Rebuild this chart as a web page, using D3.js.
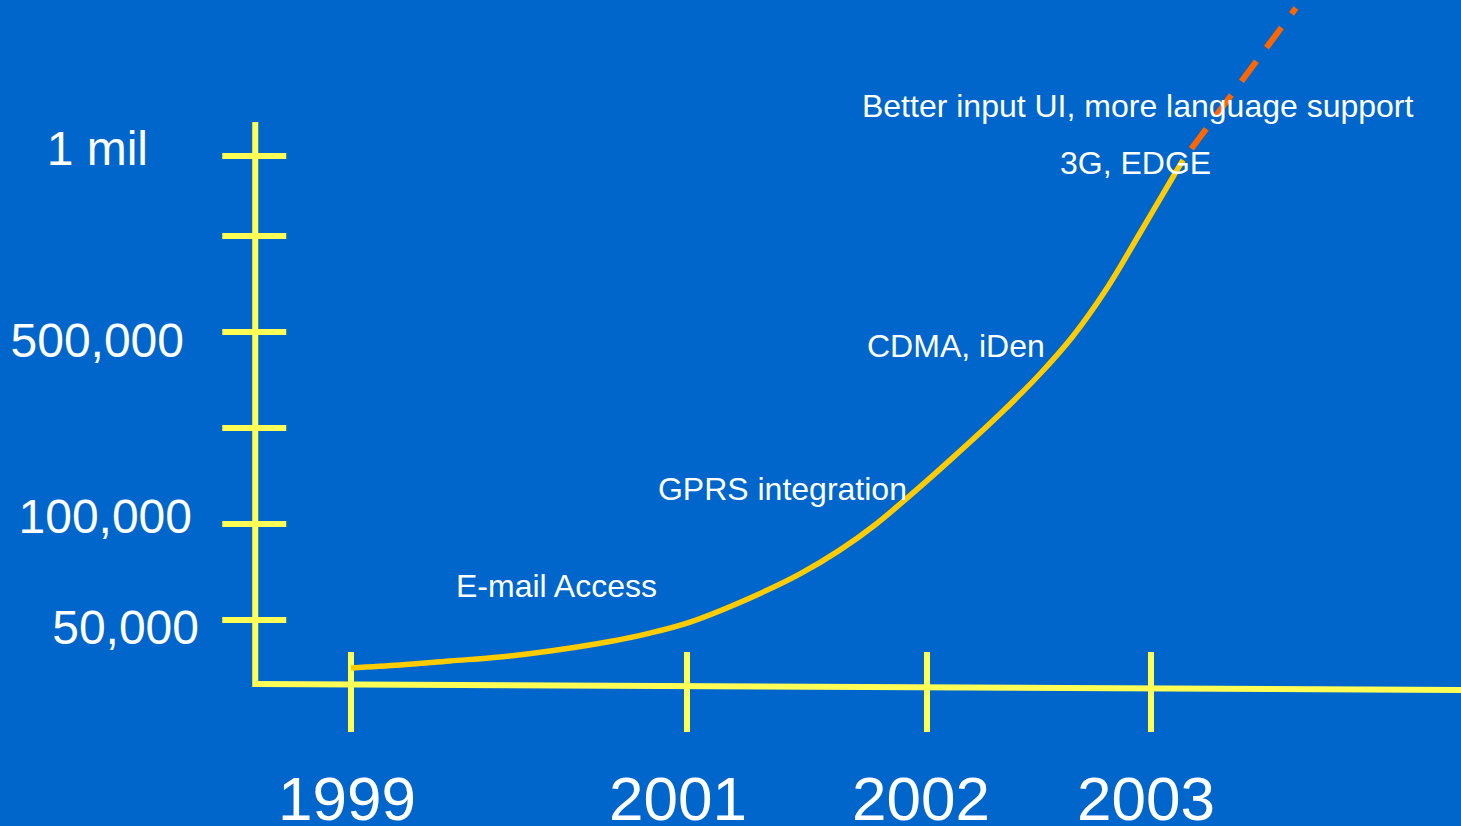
<!DOCTYPE html>
<html>
<head>
<meta charset="utf-8">
<script src="https://cdn.jsdelivr.net/npm/d3@7"></script>
<style>
  html, body { margin: 0; padding: 0; background: #0066CC; overflow: hidden; }
  svg { display: block; }
  text { font-family: "Liberation Sans", Arial, sans-serif; fill: #FFFFFF; }
</style>
</head>
<body>
<svg id="chart" width="1461" height="826"></svg>
<script>
// ---------- data ----------
const yearTicks = [1999, 2001, 2002, 2003];
const yearLabels = ["1999", "2001", "2002", "2003"];

const valueTicks = [50000, 100000, 300000, 500000, 750000, 1000000];
const valueTickLabels = ["50,000", "100,000", "", "500,000", "", "1 mil"];

// subscriber growth curve
const curveYears  = [1999.000, 1999.292, 1999.589, 1999.887, 2000.185, 2000.524, 2000.780, 2001.013, 2001.263, 2001.471, 2001.638, 2001.783, 2001.917, 2002.103, 2002.326, 2002.504, 2002.652, 2002.804, 2002.951, 2003.098, 2003.143];
const curveValues = [12500, 14800, 18000, 21100, 25800, 32800, 39800, 48400, 61500, 74000, 86500, 99500, 154000, 233000, 329000, 412500, 491700, 614600, 759400, 934400, 987500];

// projected extension (dashed)
const projYears  = [2003.143, 2003.647];
const projValues = [987500, 1462500];

// milestone annotations
const noteTexts  = ["E-mail Access", "GPRS integration", "CDMA, iDen", "3G, EDGE", "Better input UI, more language support"];
const noteYears  = [1999.625, 2000.827, 2001.750, 2002.594, 2001.729];
const noteValues = [62000, 150000, 447900, 943800, 1121900];

// ---------- layout / style ----------
const W = 1461, H = 826;
const colBg = "#0066CC", colAxis = "#FFFF55", colCurve = "#FFCC00", colProj = "#FF6600";

// piecewise (hand-drawn) scales
const x = d3.scaleLinear()
  .domain([1999, 2001, 2002, 2003])
  .range([351, 687, 927, 1151]);
const y = d3.scaleLinear()
  .domain([0, 50000, 100000, 300000, 500000, 750000, 1000000])
  .range([684, 620, 524, 428, 332, 236, 156]);

const xMin = 1998.43, xMax = 2004.39, yTop = 1106000;
const baselineDrift = 6;          // x axis slopes slightly down to the right
const yLabelEnd = [199, 192, 0, 184, 0, 148];   // right edge of each y label
const yLabelDy  = [24, 9, 0, 25, 0, 9];          // baseline offset from tick
const xLabelDx = [-4, -9, -6, -5];

const svg = d3.select("#chart");
svg.append("rect").attr("width", W).attr("height", H).attr("fill", colBg);

const gAxis = svg.append("g");

// y axis line
gAxis.append("line")
  .attr("x1", x(xMin)).attr("x2", x(xMin))
  .attr("y1", y(yTop)).attr("y2", y(0) + 3)
  .attr("stroke", colAxis).attr("stroke-width", 6);

// y ticks (crossing the axis)
gAxis.selectAll("line.ytick").data(valueTicks).join("line")
  .attr("class", "ytick")
  .attr("x1", x(xMin) - 33).attr("x2", x(xMin) + 31)
  .attr("y1", d => y(d)).attr("y2", d => y(d))
  .attr("stroke", colAxis).attr("stroke-width", 6);

// x axis line
gAxis.append("line")
  .attr("x1", x(xMin)).attr("x2", x(xMax))
  .attr("y1", y(0)).attr("y2", y(0) + baselineDrift)
  .attr("stroke", colAxis).attr("stroke-width", 6);

// x ticks
gAxis.selectAll("line.xtick").data(yearTicks).join("line")
  .attr("class", "xtick")
  .attr("x1", d => x(d)).attr("x2", d => x(d))
  .attr("y1", y(0) - 32).attr("y2", y(0) + 48)
  .attr("stroke", colAxis).attr("stroke-width", 6);

// curve
const line = d3.line()
  .x(d => x(d[0])).y(d => y(d[1]))
  .curve(d3.curveCatmullRom.alpha(0.5));

svg.append("path")
  .datum(curveYears.map((t, i) => [t, curveValues[i]]))
  .attr("d", line)
  .attr("fill", "none")
  .attr("stroke", colCurve).attr("stroke-width", 5.5);

// projection
svg.append("path")
  .datum(projYears.map((t, i) => [t, projValues[i]]))
  .attr("d", d3.line().x(d => x(d[0])).y(d => y(d[1])))
  .attr("fill", "none")
  .attr("stroke", colProj).attr("stroke-width", 6)
  .attr("stroke-dasharray", "25 17")
  .attr("stroke-dashoffset", 28);

// y labels
svg.selectAll("text.ylab").data(valueTicks).join("text")
  .attr("class", "ylab")
  .attr("x", (d, i) => yLabelEnd[i])
  .attr("y", (d, i) => y(d) + yLabelDy[i])
  .attr("text-anchor", "end")
  .attr("font-size", 48)
  .text((d, i) => valueTickLabels[i]);

// x labels
svg.selectAll("text.xlab").data(yearTicks).join("text")
  .attr("class", "xlab")
  .attr("x", (d, i) => x(d) + xLabelDx[i])
  .attr("y", 820)
  .attr("text-anchor", "middle")
  .attr("font-size", 62)
  .text((d, i) => yearLabels[i]);

// annotations
svg.selectAll("text.note").data(noteTexts).join("text")
  .attr("class", "note")
  .attr("x", (d, i) => x(noteYears[i]))
  .attr("y", (d, i) => y(noteValues[i]))
  .attr("font-size", 32)
  .text(d => d);
</script>
</body>
</html>
